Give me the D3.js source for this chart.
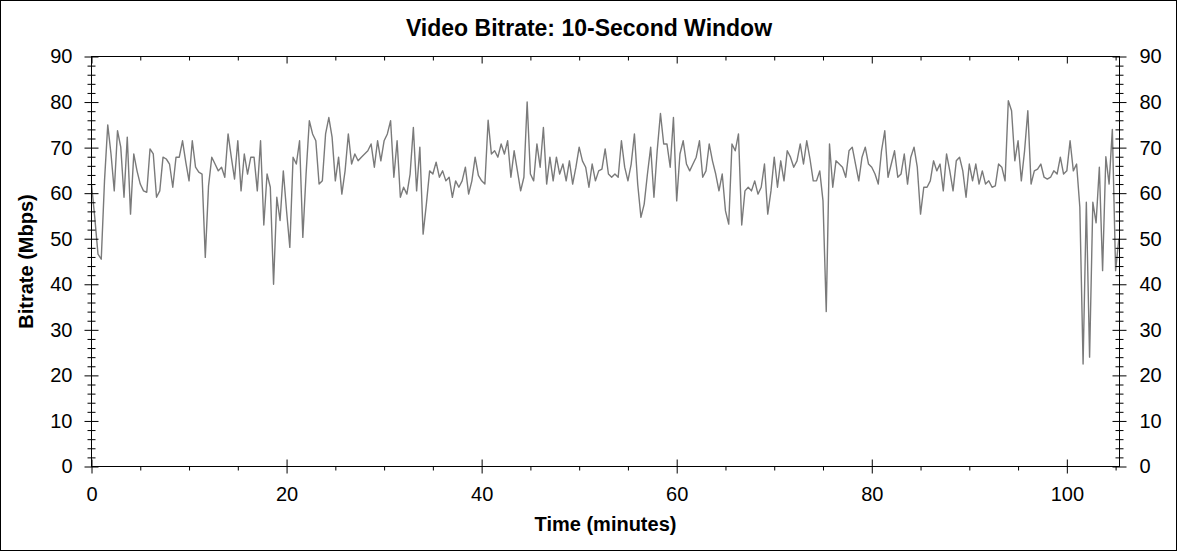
<!DOCTYPE html>
<html>
<head>
<meta charset="utf-8">
<script src="https://cdn.jsdelivr.net/npm/d3@7"></script>
<style>
    body { margin: 0; background: #fff; }
    svg { display: block; font-family: "Liberation Sans", Arial, sans-serif; }
</style>
</head>
<body>
<script>
// Chart text
var chartTitle = "Video Bitrate: 10-Second Window";
var xLabel = "Time (minutes)";
var yLabel = "Bitrate (Mbps)";

// Axes
var xMax = 105.4;
var xTicks = [0, 20, 40, 60, 80, 100];
var yTicks = [0, 10, 20, 30, 40, 50, 60, 70, 80, 90];

// one value every 20 seconds (Mbps)
var stepMinutes = 1 / 3;
var bitrate = [
    62, 54.7, 46.6, 45.5, 62.7, 75, 68.6, 60.5, 73.7, 70.1,
    59.1, 72.3, 55.4, 68.6, 64.9, 62, 60.5, 60.2, 69.7, 68.6,
    59.1, 60.5, 67.9, 67.5, 66.4, 61.3, 67.9, 67.9, 71.5, 66.8,
    62.7, 71.5, 65.7, 64.6, 64.2, 45.9, 61.6, 67.9, 66.4, 64.9,

    65.7, 63.5, 73, 67.9, 63.1, 71.5, 60.5, 68.6, 64.2, 67.9,
    67.9, 60.5, 71.5, 53, 64.2, 61.3, 40, 59.1, 54, 64.9,
    56.1, 48.1, 67.9, 66.4, 71.5, 50.3, 64.2, 75.9, 73, 71.5,
    62, 62.7, 73, 76.6, 72.3, 62.7, 67.9, 59.8, 64.9, 73,

    66.4, 68.6, 67.1, 67.9, 68.6, 69.3, 70.8, 65.7, 71.5, 67.1,
    71.5, 73, 75.9, 63.5, 71.5, 59.1, 61.3, 59.8, 64.2, 74.4,
    60.5, 70.1, 51, 57.6, 64.9, 64.2, 66.8, 63.5, 64.9, 62.7,
    63.5, 59.1, 62.7, 61.3, 62.7, 65.7, 59.8, 62.7, 67.9, 63.9,

    62.7, 62, 76, 68.6, 69.3, 67.9, 70.8, 68.6, 71.5, 63.5,
    69.3, 64.9, 60.5, 63.5, 80, 64.2, 62.7, 70.8, 65.7, 74.4,
    62, 67.9, 62.7, 67.9, 64.2, 66.4, 62.7, 67.1, 62, 65.7,
    70.1, 67.1, 65.7, 61.3, 66.4, 62.7, 64.9, 65.3, 69.7, 64.2,

    63.5, 64.2, 63.5, 71.5, 65.7, 62.7, 66.4, 73, 62, 54.7,
    57.6, 64.2, 70.1, 59.1, 69.3, 77.5, 70.8, 70.8, 65.7, 76.6,
    58.3, 68.6, 71.5, 66.4, 64.9, 66.4, 67.9, 71.5, 63.5, 64.9,
    70.8, 67.1, 64.2, 60.5, 64.2, 56.1, 53.2, 70.8, 69.3, 73,

    53, 60.5, 61.3, 60.5, 62.7, 59.8, 61.3, 66.4, 55.4, 60.5,
    67.9, 61.3, 67.1, 62.7, 69.3, 67.9, 65.7, 67.1, 70.8, 66.4,
    71.5, 67.5, 62.7, 62.7, 64.9, 58.3, 34, 70.8, 61.3, 67.1,
    66.4, 65.7, 63.5, 69.3, 70.1, 66.4, 62.7, 67.9, 70.1, 66.4,

    65.7, 64.2, 62, 69.3, 73.7, 63.5, 66.4, 69.3, 63.5, 64.2,
    68.6, 62, 67.9, 70.1, 65.7, 55.4, 61.3, 61.3, 62.7, 67.1,
    64.9, 66.4, 60.5, 68.6, 64.9, 60.5, 67.1, 67.9, 64.9, 59.1,
    66.4, 62.7, 66.4, 62, 64.9, 62, 62.7, 61.3, 61.6, 66.4,

    65.7, 62.7, 80.3, 78.1, 67.1, 71.5, 62.7, 69.3, 78.1, 62,
    64.9, 65.3, 66.4, 63.5, 63.1, 63.5, 64.9, 64.2, 67.9, 64.2,
    64.9, 71.5, 64.9, 66.4, 56.9, 22.5, 58, 24, 58, 53.5,
    65.7, 43, 68, 62, 74, 43, 50
];


var width = 1178, height = 552;
var plotLeft = 91.5, plotRight = 1119.5, plotTop = 56.5, plotBottom = 466.5;

var svg = d3.select("body")
    .append("svg")
    .attr("width", width)
    .attr("height", height);

var x = d3.scaleLinear().domain([0, xMax]).range([plotLeft, plotRight]);
var y = d3.scaleLinear().domain([0, 90]).range([plotBottom, plotTop]);

// outer border
svg.append("rect")
    .attr("x", 0.5).attr("y", 0.5)
    .attr("width", width - 2).attr("height", height - 2)
    .attr("fill", "none")
    .attr("stroke", "black");

// the data line
var line = d3.line()
    .x(function(d, i) { return x(i * stepMinutes); })
    .y(function(d) { return y(d); });

svg.append("path")
    .datum(bitrate)
    .attr("d", line)
    .attr("fill", "none")
    .attr("stroke", "#7a7a7a")
    .attr("stroke-width", 1.4)
    .attr("stroke-linejoin", "round");

// plot frame
svg.append("rect")
    .attr("x", plotLeft).attr("y", plotTop)
    .attr("width", plotRight - plotLeft).attr("height", plotBottom - plotTop)
    .attr("fill", "none")
    .attr("stroke", "black");

var yMinor = d3.range(0, 91, 2).filter(function(v) { return v % 10 !== 0; });
var xMinor = d3.range(0, xMax, 5).filter(function(v) { return v % 20 !== 0; });

var styleAxis = function(g) {
    g.select(".domain").remove();
    g.selectAll(".tick line").attr("stroke", "black");
    g.selectAll("text")
        .attr("fill", "black")
        .style("font-size", "20px")
        .style("font-family", "\"Liberation Sans\", Arial, sans-serif");
};

// left axis
svg.append("g")
    .attr("transform", "translate(" + plotLeft + ",0)")
    .call(d3.axisLeft(y).tickValues(yTicks).tickSize(7).tickPadding(12))
    .call(styleAxis)
    .selectAll(".tick line").attr("x1", 7);

svg.append("g")
    .attr("transform", "translate(" + plotLeft + ",0)")
    .call(d3.axisLeft(y).tickValues(yMinor).tickSize(4).tickFormat(""))
    .call(styleAxis)
    .selectAll(".tick line").attr("x1", 4);

// right axis
svg.append("g")
    .attr("transform", "translate(" + plotRight + ",0)")
    .call(d3.axisRight(y).tickValues(yTicks).tickSize(7).tickPadding(13))
    .call(styleAxis)
    .selectAll(".tick line").attr("x1", -7);

svg.append("g")
    .attr("transform", "translate(" + plotRight + ",0)")
    .call(d3.axisRight(y).tickValues(yMinor).tickSize(4).tickFormat(""))
    .call(styleAxis)
    .selectAll(".tick line").attr("x1", -4);

// bottom axis
svg.append("g")
    .attr("transform", "translate(0," + plotBottom + ")")
    .call(d3.axisBottom(x).tickValues(xTicks).tickSize(7).tickPadding(13))
    .call(styleAxis)
    .selectAll(".tick line").attr("y1", -7);

svg.append("g")
    .attr("transform", "translate(0," + plotBottom + ")")
    .call(d3.axisBottom(x).tickValues(xMinor).tickSize(4).tickFormat(""))
    .call(styleAxis);

// top axis, ticks pointing inside
svg.append("g")
    .attr("transform", "translate(0," + plotTop + ")")
    .call(d3.axisBottom(x).tickValues(xTicks).tickSize(7).tickFormat(""))
    .call(styleAxis);

svg.append("g")
    .attr("transform", "translate(0," + plotTop + ")")
    .call(d3.axisBottom(x).tickValues(xMinor).tickSize(4).tickFormat(""))
    .call(styleAxis);

// titles
svg.append("text")
    .attr("x", 589).attr("y", 36)
    .attr("text-anchor", "middle")
    .style("font-size", "23px")
    .style("font-weight", "bold")
    .text(chartTitle);

svg.append("text")
    .attr("x", (plotLeft + plotRight) / 2).attr("y", 531)
    .attr("text-anchor", "middle")
    .style("font-size", "20px")
    .style("font-weight", "bold")
    .text(xLabel);

svg.append("text")
    .attr("transform", "translate(33," + (plotTop + plotBottom) / 2 + ") rotate(-90)")
    .attr("text-anchor", "middle")
    .style("font-size", "20px")
    .style("font-weight", "bold")
    .text(yLabel);
</script>
</body>
</html>
